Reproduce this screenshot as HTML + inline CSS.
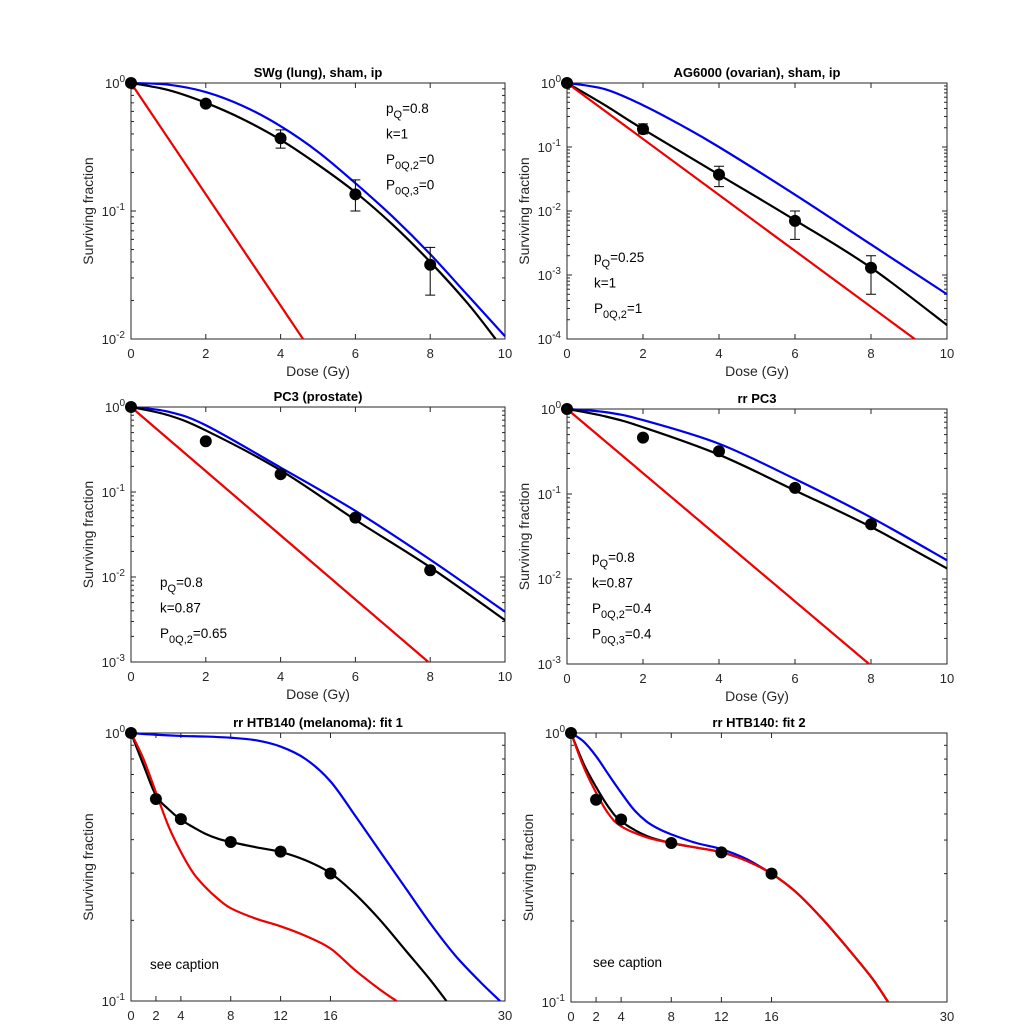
<!DOCTYPE html>
<html><head><meta charset="utf-8">
<style>
html,body{margin:0;padding:0;background:#fff;}
svg{display:block;font-family:"Liberation Sans",Arial,sans-serif;}
</style></head>
<body>
<svg id="fig" width="1024" height="1024" viewBox="0 0 1024 1024"></svg>
<script>
// ---- data (x = dose Gy, y = surviving fraction) ----
const p1Titles = "SWg (lung), sham, ip";
const p1BlackX = [0,1,2,3,4,5,6,7,8,9,9.75];
const p1BlackY = [1,0.88,0.7,0.52,0.36,0.23,0.14,0.078,0.04,0.019,0.01];
const p1BlueX = [0,1,2,3,4,5,6,7,8,9,10];
const p1BlueY = [1,0.97,0.85,0.66,0.46,0.29,0.165,0.09,0.046,0.022,0.0105];
const p1RedX = [0,4.6];
const p1RedY = [1,0.01];
const p1DotX = [0,2,4,6,8];
const p1DotY = [1,0.69,0.37,0.135,0.038];
const p1ErrLo = [null,null,0.31,0.1,0.022];
const p1ErrHi = [null,null,0.43,0.175,0.052];

const p2BlackX = [0,1,2,4,6,8,10];
const p2BlackY = [1,0.45,0.19,0.037,0.0072,0.0013,0.000165];
const p2BlueX = [0,1,2,3,4,6,8,10];
const p2BlueY = [1,0.8,0.45,0.22,0.1,0.018,0.003,0.0005];
const p2RedX = [0,9.15];
const p2RedY = [1,0.0001];
const p2DotX = [0,2,4,6,8];
const p2DotY = [1,0.19,0.037,0.007,0.0013];
const p2ErrLo = [null,0.16,0.024,0.0036,0.0005];
const p2ErrHi = [null,0.23,0.05,0.01,0.002];

const p3BlackX = [0,1,2,4,6,8,10];
const p3BlackY = [1,0.8,0.53,0.18,0.047,0.013,0.0031];
const p3BlueX = [0,1,2,4,6,8,10];
const p3BlueY = [1,0.88,0.61,0.194,0.06,0.016,0.0039];
const p3RedX = [0,7.95];
const p3RedY = [1,0.001];
const p3DotX = [0,2,4,6,8];
const p3DotY = [1,0.395,0.162,0.05,0.012];

const p4BlackX = [0,1,2,4,6,8,10];
const p4BlackY = [1,0.82,0.61,0.29,0.11,0.041,0.0133];
const p4BlueX = [0,1,2,4,6,8,10];
const p4BlueY = [1,0.92,0.74,0.39,0.15,0.053,0.0166];
const p4RedX = [0,7.95];
const p4RedY = [1,0.001];
const p4DotX = [0,2,4,6,8];
const p4DotY = [1,0.46,0.318,0.118,0.044];

const p5BlackX = [0,1,2,3,4,5,6,7,8,10,12,14,16,18,20,22,24,25.3];
const p5BlackY = [1,0.76,0.585,0.52,0.475,0.445,0.42,0.403,0.392,0.375,0.36,0.335,0.3,0.25,0.2,0.155,0.12,0.1];
const p5BlueX = [0,2,4,6,8,10,12,14,16,18,20,22,24,26,28,29.6];
const p5BlueY = [1,0.985,0.975,0.97,0.96,0.94,0.89,0.8,0.66,0.49,0.36,0.265,0.195,0.148,0.118,0.1];
const p5RedX = [0,1,2,3,4,5,6,7,8,10,12,14,16,18,20,21.3];
const p5RedY = [1,0.8,0.6,0.45,0.36,0.3,0.265,0.24,0.222,0.203,0.19,0.175,0.157,0.13,0.11,0.1];
const p5DotX = [0,2,4,8,12,16];
const p5DotY = [1,0.567,0.477,0.392,0.361,0.299];

const p6BlackX = [0,1,2,3,4,6,8,10,12,14,16,18,20,22,24,25.3];
const p6BlackY = [1,0.77,0.63,0.53,0.47,0.415,0.39,0.375,0.36,0.335,0.3,0.255,0.205,0.16,0.123,0.1];
const p6BlueX = [0,1,2,3,4,5,6,7,8,10,12,14,16];
const p6BlueY = [1,0.93,0.82,0.7,0.6,0.52,0.47,0.44,0.42,0.39,0.37,0.34,0.3];
const p6RedX = [0,1,2,3,4,6,8,10,12,14,16,18,20,22,24,25.3];
const p6RedY = [1,0.75,0.6,0.5,0.45,0.41,0.39,0.375,0.36,0.335,0.3,0.255,0.205,0.16,0.123,0.1];
const p6DotX = [0,2,4,8,12,16];
const p6DotY = [1,0.565,0.477,0.39,0.36,0.3];

const xTicks10 = [0,2,4,6,8,10];
const xTicks30 = [0,2,4,8,12,16,30];

const NS = "http://www.w3.org/2000/svg";
const svg = document.getElementById('fig');
function mk(tag, attrs, parent){
  const e = document.createElementNS(NS, tag);
  for (const k in attrs) e.setAttribute(k, attrs[k]);
  (parent||svg).appendChild(e);
  return e;
}

function panel(cfg){
  const g = mk('g', {});
  
  
  const {l,r,t,b,xmax,dec} = cfg;
  const X = v => l + v/xmax*(r-l);
  const Y = v => t + (-Math.log10(v))/dec*(b-t);
  const fr = mk('rect', {x:l,y:t,width:r-l,height:b-t,fill:'none',stroke:'#262626','stroke-width':1}, g);
  
  
  for (let d=0; d<=dec; d++){
    const y = t + d/dec*(b-t);
    mk('line',{x1:l,x2:l+5,y1:y,y2:y,stroke:'#262626'},g);
    mk('line',{x1:r,x2:r-5,y1:y,y2:y,stroke:'#262626'},g);
    const tx = mk('text',{x:l-6,y:y+5,'text-anchor':'end','font-size':13,fill:'#262626'},g);
    
    
    tx.innerHTML = '10<tspan dy="-6" font-size="10">'+(d===0?'0':'-'+d)+'</tspan>';
    if (d<dec){
      for (let k=2;k<=9;k++){
        const ym = t + (d+1-Math.log10(k))/dec*(b-t);
        mk('line',{x1:l,x2:l+3,y1:ym,y2:ym,stroke:'#262626'},g);
        mk('line',{x1:r,x2:r-3,y1:ym,y2:ym,stroke:'#262626'},g);
      }
    }
  }
  cfg.xt.forEach(v=>{
    const x = X(v);
    mk('line',{x1:x,x2:x,y1:b,y2:b-5,stroke:'#262626'},g);
    mk('line',{x1:x,x2:x,y1:t,y2:t+5,stroke:'#262626'},g);
    const tx = mk('text',{x:x,y:b+19,'text-anchor':'middle','font-size':13,fill:'#262626'},g);
    
    
    tx.textContent = v;
  });
  const tt = mk('text',{x:(l+r)/2,y:t-6,'text-anchor':'middle','font-size':13,'font-weight':'bold',fill:'#000'},g);
  
  
  tt.textContent = cfg.title;
  const yl = mk('text',{x:0,y:0,'text-anchor':'middle','font-size':14,fill:'#262626',transform:`translate(${l-38},${(t+b)/2}) rotate(-90)`},g);
  
  
  yl.textContent = 'Surviving fraction';
  if (cfg.xlabel){
    const xl = mk('text',{x:(l+r)/2,y:b+37,'text-anchor':'middle','font-size':14,fill:'#262626'},g);
    
    
    xl.textContent = 'Dose (Gy)';
  }
  const cid = 'c'+cfg.name;
  const cp = mk('clipPath',{id:cid},g);
  mk('rect',{x:l,y:t-2,width:r-l+2,height:b-t+2},cp);
  const cg = mk('g',{'clip-path':`url(#${cid})`},g);
  function curve(xs, ys, color, nm){
    const pts = xs.map((x,i)=>[X(x),Y(ys[i])]);
    let d = 'M'+pts[0][0]+','+pts[0][1];
    for (let i=0;i<pts.length-1;i++){
      const p0 = pts[Math.max(0,i-1)], p1=pts[i], p2=pts[i+1], p3=pts[Math.min(pts.length-1,i+2)];
      const c1=[p1[0]+(p2[0]-p0[0])/6, p1[1]+(p2[1]-p0[1])/6];
      const c2=[p2[0]-(p3[0]-p1[0])/6, p2[1]-(p3[1]-p1[1])/6];
      d += ` C${c1[0]},${c1[1]} ${c2[0]},${c2[1]} ${p2[0]},${p2[1]}`;
    }
    const p = mk('path',{d:d,fill:'none',stroke:color,'stroke-width':2.2,'stroke-linejoin':'round'},cg);
    
    
  }
  curve(cfg.blueX,cfg.blueY,'#0000ee','blue-curve');
  curve(cfg.blackX,cfg.blackY,'#000','black-fit-curve');
  curve(cfg.redX,cfg.redY,'#ee0000','red-curve');
  if (cfg.lo){
    cfg.dotX.forEach((x,i)=>{
      if (cfg.lo[i]==null) return;
      const px=X(x), y1=Y(cfg.lo[i]), y2=Y(cfg.hi[i]);
      const e = mk('path',{d:`M${px},${y1}V${y2}M${px-5},${y1}H${px+5}M${px-5},${y2}H${px+5}`,stroke:'#000','stroke-width':1,fill:'none'},g);
      
      
    });
  }
  cfg.dotX.forEach((x,i)=>{
    const c = mk('circle',{cx:X(x),cy:Y(cfg.dotY[i]),r:6,fill:'#000'},g);
    
    
  });
  if (cfg.ann){
    const ag = mk('g',{},g);
    
    
    cfg.ann.lines.forEach((s,i)=>{
      const tx = mk('text',{x:cfg.ann.x,y:cfg.ann.y+i*25.5,'font-size':13.5,fill:'#000'},ag);
      tx.innerHTML = s;
    });
  }
}

const sub = s => `<tspan dy="5" font-size="11">${s}</tspan><tspan dy="-5">`;
panel({name:'panel-swg-lung',l:131,r:505,t:83,b:339,xmax:10,dec:2,xt:xTicks10,title:p1Titles,xlabel:true,
  blackX:p1BlackX,blackY:p1BlackY,blueX:p1BlueX,blueY:p1BlueY,redX:p1RedX,redY:p1RedY,dotX:p1DotX,dotY:p1DotY,lo:p1ErrLo,hi:p1ErrHi,
  ann:{x:386,y:113,lines:['p'+sub('Q')+'=0.8</tspan>','k=1','P'+sub('0Q,2')+'=0</tspan>','P'+sub('0Q,3')+'=0</tspan>']}});
panel({name:'panel-ag6000-ovarian',l:567,r:947,t:83,b:339,xmax:10,dec:4,xt:xTicks10,title:'AG6000 (ovarian), sham, ip',xlabel:true,
  blackX:p2BlackX,blackY:p2BlackY,blueX:p2BlueX,blueY:p2BlueY,redX:p2RedX,redY:p2RedY,dotX:p2DotX,dotY:p2DotY,lo:p2ErrLo,hi:p2ErrHi,
  ann:{x:594,y:262,lines:['p'+sub('Q')+'=0.25</tspan>','k=1','P'+sub('0Q,2')+'=1</tspan>']}});
panel({name:'panel-pc3-prostate',l:131,r:505,t:407,b:662,xmax:10,dec:3,xt:xTicks10,title:'PC3 (prostate)',xlabel:true,
  blackX:p3BlackX,blackY:p3BlackY,blueX:p3BlueX,blueY:p3BlueY,redX:p3RedX,redY:p3RedY,dotX:p3DotX,dotY:p3DotY,
  ann:{x:160,y:587,lines:['p'+sub('Q')+'=0.8</tspan>','k=0.87','P'+sub('0Q,2')+'=0.65</tspan>']}});
panel({name:'panel-rr-pc3',l:567,r:947,t:409,b:664,xmax:10,dec:3,xt:xTicks10,title:'rr PC3',xlabel:true,
  blackX:p4BlackX,blackY:p4BlackY,blueX:p4BlueX,blueY:p4BlueY,redX:p4RedX,redY:p4RedY,dotX:p4DotX,dotY:p4DotY,
  ann:{x:592,y:562,lines:['p'+sub('Q')+'=0.8</tspan>','k=0.87','P'+sub('0Q,2')+'=0.4</tspan>','P'+sub('0Q,3')+'=0.4</tspan>']}});
panel({name:'panel-htb140-fit1',l:131,r:505,t:733,b:1001,xmax:30,dec:1,xt:xTicks30,title:'rr HTB140 (melanoma): fit 1',xlabel:false,
  blackX:p5BlackX,blackY:p5BlackY,blueX:p5BlueX,blueY:p5BlueY,redX:p5RedX,redY:p5RedY,dotX:p5DotX,dotY:p5DotY,
  ann:{x:150,y:969,lines:['see caption']}});
panel({name:'panel-htb140-fit2',l:571,r:947,t:733,b:1002,xmax:30,dec:1,xt:xTicks30,title:'rr HTB140: fit 2',xlabel:false,
  blackX:p6BlackX,blackY:p6BlackY,blueX:p6BlueX,blueY:p6BlueY,redX:p6RedX,redY:p6RedY,dotX:p6DotX,dotY:p6DotY,
  ann:{x:593,y:967,lines:['see caption']}});
</script>
</body></html>
